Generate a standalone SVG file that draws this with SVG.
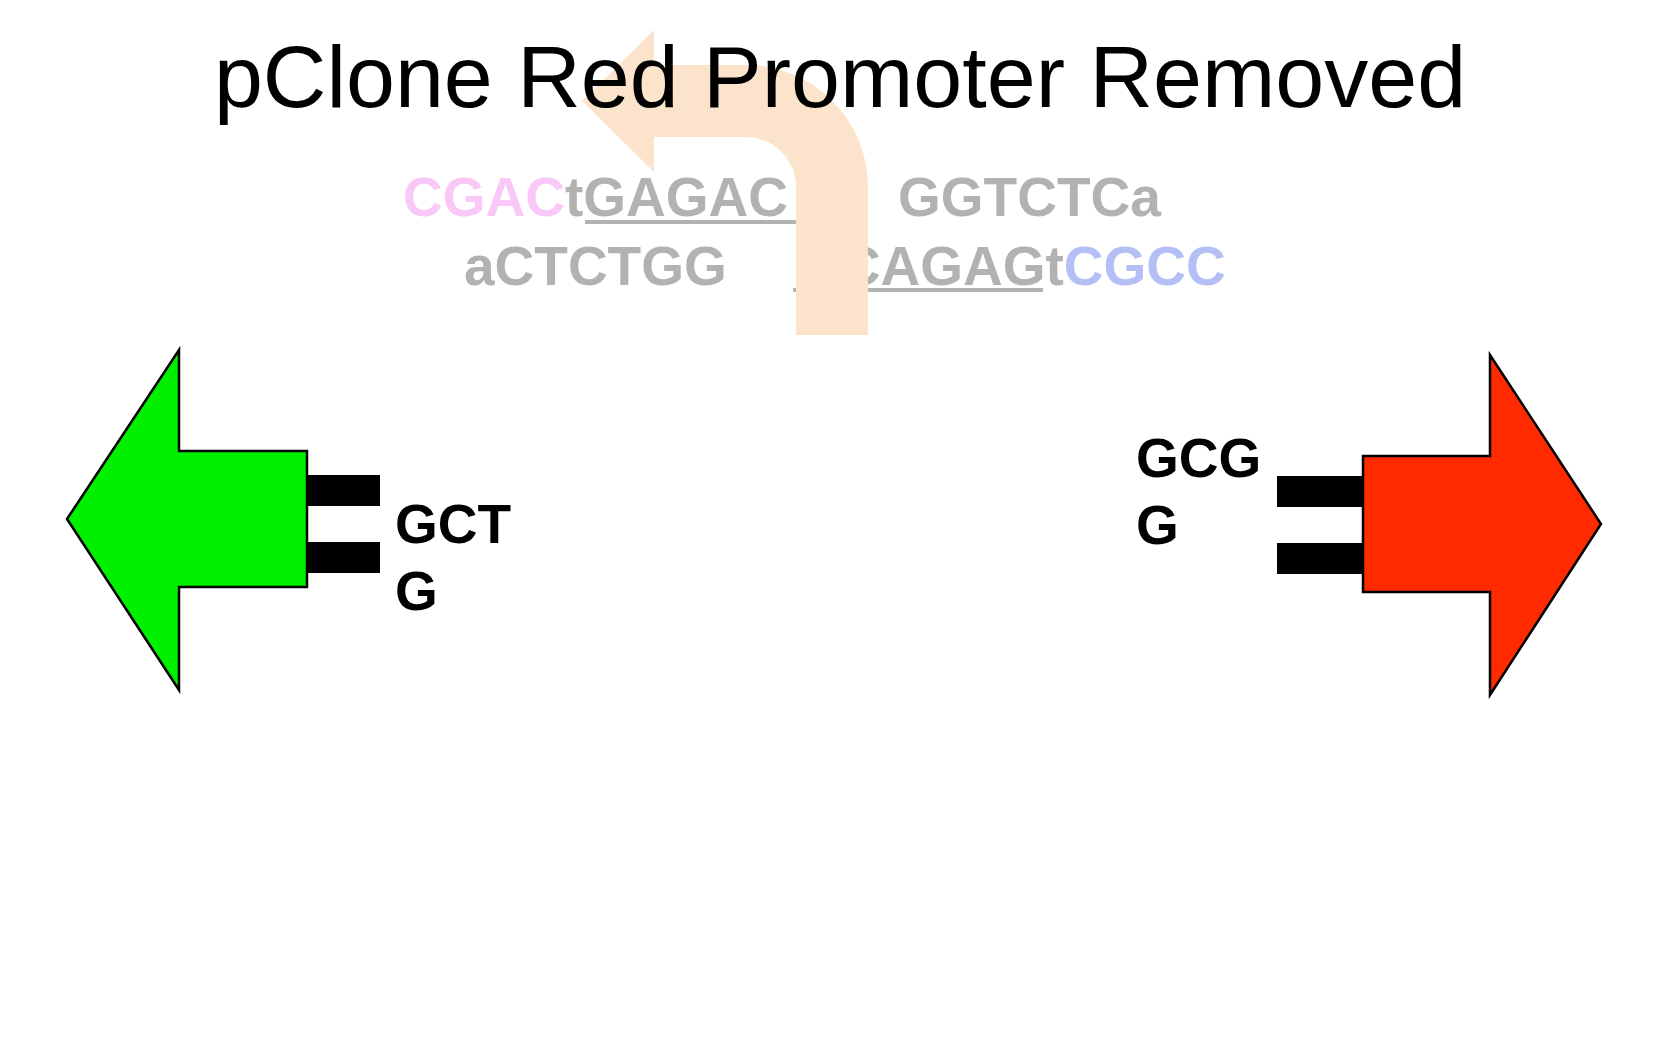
<svg xmlns="http://www.w3.org/2000/svg" width="1680" height="1050" viewBox="0 0 1680 1050">
  <style>
    .seq { font-family: "Liberation Sans", Arial, sans-serif; font-weight: bold; font-size: 55px; }
    .grey { fill: #B2B2B2; }
    .pink { fill: #FAC8F6; }
    .blue { fill: #B4C0F5; }
    .lbl { font-family: "Liberation Sans", Arial, sans-serif; font-weight: bold; font-size: 55px; fill: #000000; }
    .title { font-family: "Liberation Sans", Arial, sans-serif; font-size: 88px; fill: #000000; }
    .ul { fill: #B2B2B2; }
    .shape { stroke: #000000; stroke-width: 2.5; stroke-linejoin: miter; }
    .bar { fill: #000000; }
  </style>
  <rect width="1680" height="1050" fill="#FFFFFF"/>

  <g id="sequence">
    <text class="seq" x="403" y="216"><tspan class="pink">CGAC</tspan><tspan class="grey">tGAGAC</tspan></text>
    <rect class="ul" x="585" y="220" width="211" height="4"/>
    <text class="seq grey" x="898" y="216">GGTCTCa</text>
    <text class="seq grey" x="464" y="285">aCTCTGG</text>
    <text class="seq" x="801" y="285"><tspan class="grey">CCAGAGt</tspan><tspan class="blue">CGCC</tspan></text>
    <rect class="ul" x="793" y="288" width="250" height="4"/>
  </g>

  <g id="promoter">
    <path d="M582,101 L654,30 L654,65 L746,65 A122,122 0 0 1 868,187 L868,335 L796,335 L796,187 A50,50 0 0 0 746,137 L654,137 L654,172 Z" fill="#FCE4CC"/>
  </g>

  <g id="title">
    <text class="title" x="840" y="107" text-anchor="middle">pClone Red Promoter Removed</text>
  </g>

  <g id="green-part">
    <polygon class="shape" points="67,519 179,350 179,451 307,451 307,587 179,587 179,690" fill="#00F000"/>
    <rect class="bar" x="308" y="475" width="72" height="31"/>
    <rect class="bar" x="308" y="542" width="72" height="31"/>
    <text class="lbl" x="395" y="543">GCT</text>
    <text class="lbl" x="395" y="610">G</text>
  </g>

  <g id="red-part">
    <polygon class="shape" points="1363,456 1490,456 1490,355 1601,524 1490,695 1490,592 1363,592" fill="#FF2A00"/>
    <rect class="bar" x="1277" y="476" width="86" height="31"/>
    <rect class="bar" x="1277" y="543" width="86" height="31"/>
    <text class="lbl" x="1136" y="477">GCG</text>
    <text class="lbl" x="1136" y="544">G</text>
  </g>

  <g id="connectors"></g>
</svg>
